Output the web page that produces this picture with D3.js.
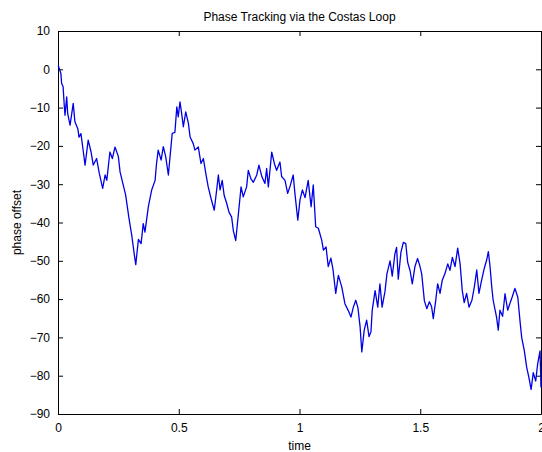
<!DOCTYPE html>
<html>
<head>
<meta charset="utf-8">
<script src="https://cdn.jsdelivr.net/npm/d3@7"></script>
<style>
  html, body { margin: 0; padding: 0; background: #fff; }
  svg { display: block; }
  text { font-family: "Liberation Sans", Arial, sans-serif; fill: #000; }
</style>
</head>
<body>
<svg id="chart" width="542" height="452"></svg>
<script>
// Phase estimate of the Costas loop over time
const time = [
  0.001, 0.012, 0.015, 0.021, 0.026, 0.029, 0.036, 0.040, 0.050, 0.056,
  0.063, 0.070, 0.082, 0.087, 0.095, 0.105, 0.112, 0.125, 0.137, 0.146,
  0.160, 0.171, 0.185, 0.195, 0.202, 0.215, 0.225, 0.236, 0.250, 0.257,
  0.270, 0.280, 0.294, 0.305, 0.316, 0.322, 0.333, 0.344, 0.353, 0.360,
  0.374, 0.388, 0.402, 0.408, 0.415, 0.427, 0.436, 0.446, 0.457, 0.464,
  0.473, 0.484, 0.492, 0.498, 0.505, 0.512, 0.519, 0.529, 0.540, 0.547,
  0.560, 0.567, 0.581, 0.592, 0.602, 0.612, 0.622, 0.634, 0.647, 0.657,
  0.664, 0.671, 0.680, 0.688, 0.699, 0.708, 0.719, 0.726, 0.736, 0.747,
  0.758, 0.767, 0.781, 0.788, 0.799, 0.809, 0.823, 0.832, 0.844, 0.857,
  0.864, 0.871, 0.885, 0.896, 0.905, 0.919, 0.926, 0.940, 0.951, 0.961,
  0.974, 0.981, 0.993, 1.002, 1.012, 1.023, 1.036, 1.048, 1.057, 1.067,
  1.078, 1.092, 1.099, 1.110, 1.119, 1.130, 1.139, 1.150, 1.161, 1.175,
  1.188, 1.202, 1.213, 1.223, 1.233, 1.242, 1.251, 1.258, 1.268, 1.278,
  1.288, 1.296, 1.301, 1.313, 1.324, 1.333, 1.342, 1.354, 1.362, 1.375,
  1.384, 1.395, 1.402, 1.409, 1.420, 1.430, 1.440, 1.448, 1.458, 1.467,
  1.478, 1.489, 1.499, 1.506, 1.517, 1.527, 1.538, 1.547, 1.554, 1.564,
  1.572, 1.582, 1.591, 1.602, 1.614, 1.623, 1.633, 1.644, 1.655, 1.665,
  1.674, 1.682, 1.692, 1.702, 1.714, 1.724, 1.734, 1.743, 1.754, 1.765,
  1.775, 1.782, 1.789, 1.796, 1.802, 1.810, 1.816, 1.823, 1.830, 1.841,
  1.851, 1.862, 1.872, 1.881, 1.892, 1.904, 1.913, 1.920, 1.931, 1.941,
  1.950, 1.959, 1.968, 1.978, 1.986, 1.996, 2.000
];
const phase = [
    1.0,  -1.1,  -3.7,  -4.5,  -9.5, -12.0,  -7.2, -11.5, -14.6, -12.0,
   -8.9, -13.7, -15.5, -17.7, -16.8, -21.6, -25.0, -18.5, -21.6, -25.0,
  -23.3, -27.2, -31.1, -27.6, -29.0, -21.6, -23.3, -20.3, -22.8, -26.8,
  -30.2, -32.8, -38.9, -43.2, -48.4, -51.0, -44.4, -45.5, -40.3, -42.5,
  -35.9, -31.5, -29.0, -24.6, -21.1, -23.7, -20.2, -22.8, -27.6, -22.8,
  -16.7, -16.5,  -9.8, -12.4,  -8.5, -11.5, -15.0, -11.1, -14.1, -17.7,
  -19.4, -21.1, -20.3, -24.6, -23.3, -27.2, -30.7, -33.8, -36.8, -31.5,
  -27.6, -31.5, -29.0, -32.9, -35.1, -37.3, -38.6, -42.1, -44.7, -37.7,
  -30.7, -33.3, -30.7, -26.4, -28.6, -29.5, -27.6, -25.0, -28.0, -29.8,
  -25.9, -30.7, -21.6, -24.6, -26.4, -24.2, -28.0, -29.0, -32.4, -30.5,
  -27.6, -32.4, -39.4, -34.1, -31.5, -33.5, -29.0, -35.9, -30.2, -41.1,
  -41.5, -44.6, -47.2, -46.4, -51.5, -49.3, -52.4, -58.5, -53.8, -56.8,
  -61.2, -63.0, -64.7, -62.1, -60.3, -62.3, -67.3, -73.8, -68.1, -65.5,
  -69.8, -68.5, -63.0, -57.8, -62.1, -56.0, -62.1, -58.0, -53.4, -50.0,
  -54.0, -48.2, -46.5, -54.8, -47.8, -45.2, -45.5, -50.4, -52.6, -56.0,
  -51.5, -49.4, -51.5, -53.4, -60.4, -62.5, -60.7, -62.0, -65.1, -60.4,
  -56.0, -58.5, -55.1, -53.4, -50.8, -52.5, -49.1, -51.5, -46.7, -50.8,
  -57.8, -60.9, -58.5, -62.1, -60.3, -56.8, -52.4, -58.5, -55.1, -52.0,
  -49.8, -47.6, -51.5, -56.8, -60.3, -62.9, -64.7, -68.1, -62.9, -64.5,
  -58.6, -62.9, -61.0, -59.4, -57.2, -59.5, -65.7, -70.0, -73.5, -77.9,
  -80.5, -83.6, -79.2, -81.4, -77.0, -73.5, -83.1
];
const xTicks = [0, 0.5, 1, 1.5, 2];
const xTickLabels = ["0", "0.5", "1", "1.5", "2"];
const yTicks = [-90, -80, -70, -60, -50, -40, -30, -20, -10, 0, 10];

const margin = { left: 58, right: 1, top: 31, bottom: 38 };
const W = 542, H = 452;
const svg = d3.select("#chart");

const x = d3.scaleLinear().domain([0, 2]).range([margin.left, W - margin.right]);
const y = d3.scaleLinear().domain([-90, 10]).range([H - margin.bottom, margin.top]);

const tickLen = 5;

// bottom axis with inward ticks
const gx = svg.append("g").attr("transform", `translate(0,${y(-90)})`)
  .call(d3.axisBottom(x).tickValues(xTicks)
    .tickFormat((d, i) => xTickLabels[i]).tickSizeInner(-tickLen).tickSizeOuter(0).tickPadding(9));
// left axis with inward ticks
const gy = svg.append("g").attr("transform", `translate(${x(0)},0)`)
  .call(d3.axisLeft(y).tickValues(yTicks).tickFormat(d3.format("d"))
    .tickSizeInner(-tickLen).tickSizeOuter(0).tickPadding(8));
// top and right box edges with ticks, no labels
const gt = svg.append("g").attr("transform", `translate(0,${y(10)})`)
  .call(d3.axisTop(x).tickValues(xTicks).tickFormat("").tickSizeInner(-tickLen).tickSizeOuter(0));
const gr = svg.append("g").attr("transform", `translate(${x(2)},0)`)
  .call(d3.axisRight(y).tickValues(yTicks).tickFormat("").tickSizeInner(-tickLen).tickSizeOuter(0));

[gx, gy, gt, gr].forEach(g => {
  g.selectAll(".domain").attr("stroke", "#000").attr("stroke-width", 1);
  g.selectAll(".tick line").attr("stroke", "#000");
  g.selectAll(".tick text").attr("font-size", 12).attr("font-family", "Liberation Sans, Arial, sans-serif").attr("fill", "#000");
});

// the phase trace
const line = d3.line().x((d, i) => x(time[i])).y(d => y(d));
svg.append("path")
  .datum(phase)
  .attr("fill", "none")
  .attr("stroke", "#0000e6")
  .attr("stroke-width", 1.3)
  .attr("stroke-linejoin", "round")
  .attr("d", line);

// title and axis labels
svg.append("text").attr("x", (x(0) + x(2)) / 2).attr("y", 20.5)
  .attr("text-anchor", "middle").attr("font-size", 12)
  .text("Phase Tracking via the Costas Loop");
svg.append("text").attr("x", (x(0) + x(2)) / 2).attr("y", 450)
  .attr("text-anchor", "middle").attr("font-size", 12)
  .text("time");
svg.append("text")
  .attr("transform", `translate(21,${(y(-90) + y(10)) / 2}) rotate(-90)`)
  .attr("text-anchor", "middle").attr("font-size", 12)
  .text("phase offset");
</script>
</body>
</html>
